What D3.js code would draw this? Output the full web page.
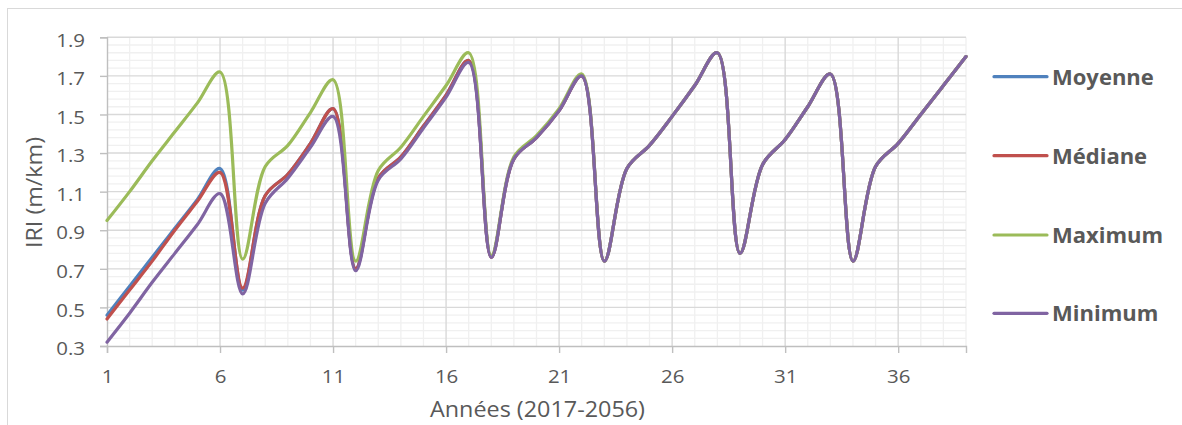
<!DOCTYPE html>
<html>
<head>
<meta charset="utf-8">
<script src="https://cdn.jsdelivr.net/npm/d3@7"></script>
<style>
  html, body { margin: 0; padding: 0; background: #fff; }
  svg { display: block; font-family: "Open Sans", "Liberation Sans", sans-serif; }
</style>
</head>
<body>
<svg id="chart" width="1182" height="425"></svg>
<script>
// ---- data ----
const years = d3.range(1, 40);
const moyenne = [0.46,0.61,0.76,0.91,1.06,1.22,0.59,1.08,1.19,1.35,1.53,0.70,1.17,1.28,1.44,1.60,1.78,0.76,1.27,1.38,1.52,1.70,0.74,1.22,1.34,1.49,1.65,1.82,0.78,1.24,1.37,1.54,1.71,0.74,1.23,1.35,1.50,1.65,1.80];
const mediane = [0.44,0.59,0.74,0.90,1.05,1.20,0.60,1.08,1.19,1.35,1.53,0.70,1.17,1.28,1.44,1.60,1.78,0.76,1.27,1.38,1.52,1.70,0.74,1.22,1.34,1.49,1.65,1.82,0.78,1.24,1.37,1.54,1.71,0.74,1.23,1.35,1.50,1.65,1.80];
const maximum = [0.95,1.10,1.26,1.41,1.56,1.72,0.75,1.23,1.34,1.51,1.68,0.74,1.21,1.33,1.49,1.65,1.82,0.77,1.28,1.39,1.53,1.71,0.74,1.22,1.34,1.49,1.65,1.82,0.78,1.24,1.37,1.54,1.71,0.74,1.23,1.35,1.50,1.65,1.80];
const minimum = [0.32,0.47,0.63,0.78,0.93,1.09,0.57,1.04,1.17,1.33,1.49,0.69,1.16,1.27,1.43,1.59,1.77,0.76,1.27,1.38,1.52,1.70,0.74,1.22,1.34,1.49,1.65,1.82,0.78,1.24,1.37,1.54,1.71,0.74,1.23,1.35,1.50,1.65,1.80];
const seriesNames = ["Moyenne", "Médiane", "Maximum", "Minimum"];
const seriesColors = ["#4F81BD", "#C0504D", "#9BBB59", "#8064A2"];
const yTicks = [0.3, 0.5, 0.7, 0.9, 1.1, 1.3, 1.5, 1.7, 1.9];
const xTicks = [1, 6, 11, 16, 21, 26, 31, 36];
const xTitle = "Années (2017-2056)";
const yTitle = "IRI (m/km)";

const seriesValues = [moyenne, mediane, maximum, minimum];

const svg = d3.select("#chart");
const x = d3.scaleLinear().domain([1, 39]).range([107, 966]);
const y = d3.scaleLinear().domain([0.3, 1.9]).range([346, 37.3]);
const textColor = "#595959";

// chart border
svg.append("rect").attr("x", 7.5).attr("y", 8.5).attr("width", 1200).attr("height", 430)
  .attr("fill", "none").attr("stroke", "#d9d9d9").attr("stroke-width", 1);

// minor gridlines
const g = svg.append("g");
const minorY = d3.range(0, 41).map(i => 0.3 + i * 0.04).filter(v => Math.abs(((v - 0.3) / 0.2) - Math.round((v - 0.3) / 0.2)) > 1e-6);
g.selectAll(".my").data(minorY).join("line")
  .attr("x1", x(1)).attr("x2", x(39)).attr("y1", d => y(d)).attr("y2", d => y(d))
  .attr("stroke", "#f0f0f0").attr("stroke-width", 1.3);
const minorX = years.filter(v => (v - 1) % 5 !== 0);
g.selectAll(".mx").data(minorX).join("line")
  .attr("x1", d => x(d)).attr("x2", d => x(d)).attr("y1", y(0.3)).attr("y2", y(1.9))
  .attr("stroke", "#f0f0f0").attr("stroke-width", 1.3);
// major gridlines
g.selectAll(".My").data(yTicks.slice(1)).join("line")
  .attr("x1", x(1)).attr("x2", x(39)).attr("y1", d => y(d)).attr("y2", d => y(d))
  .attr("stroke", "#d9d9d9").attr("stroke-width", 1.4);
g.selectAll(".Mx").data(xTicks.slice(1)).join("line")
  .attr("x1", d => x(d)).attr("x2", d => x(d)).attr("y1", y(0.3)).attr("y2", y(1.9))
  .attr("stroke", "#d9d9d9").attr("stroke-width", 1.4);

// axes
const yAxis = svg.append("g").attr("transform", `translate(${x(1)},0)`)
  .call(d3.axisLeft(y).tickValues(yTicks).tickSize(7).tickFormat(d3.format(".1f")));
const xAxis = svg.append("g").attr("transform", `translate(0,${y(0.3)})`)
  .call(d3.axisBottom(x).tickValues(xTicks).tickSize(7).tickFormat(d3.format("d")));
[yAxis, xAxis].forEach(a => {
  a.select(".domain").attr("stroke", "#bfbfbf").attr("stroke-width", 1.4);
  a.selectAll(".tick line").attr("stroke", "#bfbfbf").attr("stroke-width", 1.4);
  a.selectAll(".tick text").attr("fill", textColor).attr("font-size", 17.8)
    .attr("font-family", "'Open Sans', sans-serif");
});
yAxis.selectAll(".tick text").attr("x", -22).attr("dy", null).attr("y", 8.7);
xAxis.selectAll(".tick text").attr("dy", null).attr("y", 36.7);
svg.selectAll(".tick text").each(function() {
  const w = this.getComputedTextLength();
  d3.select(this).attr("textLength", w * 1.15).attr("lengthAdjust", "spacingAndGlyphs");
});

// lines
const line = d3.line().x((d, i) => x(years[i])).y(d => y(d)).curve(d3.curveCatmullRom.alpha(0.5));
svg.append("g").selectAll("path").data(seriesValues).join("path")
  .attr("d", d => line(d)).attr("fill", "none")
  .attr("stroke", (d, i) => seriesColors[i]).attr("stroke-width", 3.2)
  .attr("stroke-linejoin", "round").attr("stroke-linecap", "round");

// titles
svg.append("text").attr("x", 537.5).attr("y", 417.3).attr("text-anchor", "middle")
  .attr("font-size", 21).attr("fill", textColor)
  .attr("textLength", 215).attr("lengthAdjust", "spacingAndGlyphs").text(xTitle);
svg.append("text").attr("transform", "translate(41.5,192.5) rotate(-90)").attr("text-anchor", "middle")
  .attr("font-size", 21).attr("fill", textColor)
  .attr("textLength", 111).attr("lengthAdjust", "spacingAndGlyphs").text(yTitle);

// legend
const legY = [76.7, 155.7, 235, 313.3];
const leg = svg.append("g").selectAll("g").data(seriesNames).join("g");
leg.append("line").attr("x1", 994).attr("x2", 1047)
  .attr("y1", (d, i) => legY[i]).attr("y2", (d, i) => legY[i])
  .attr("stroke", (d, i) => seriesColors[i]).attr("stroke-width", 3.2).attr("stroke-linecap", "round");
leg.append("text").attr("x", 1052).attr("y", (d, i) => legY[i] + 8)
  .attr("font-size", 22).attr("font-weight", "bold").attr("fill", textColor).text(d => d);
</script>
</body>
</html>
